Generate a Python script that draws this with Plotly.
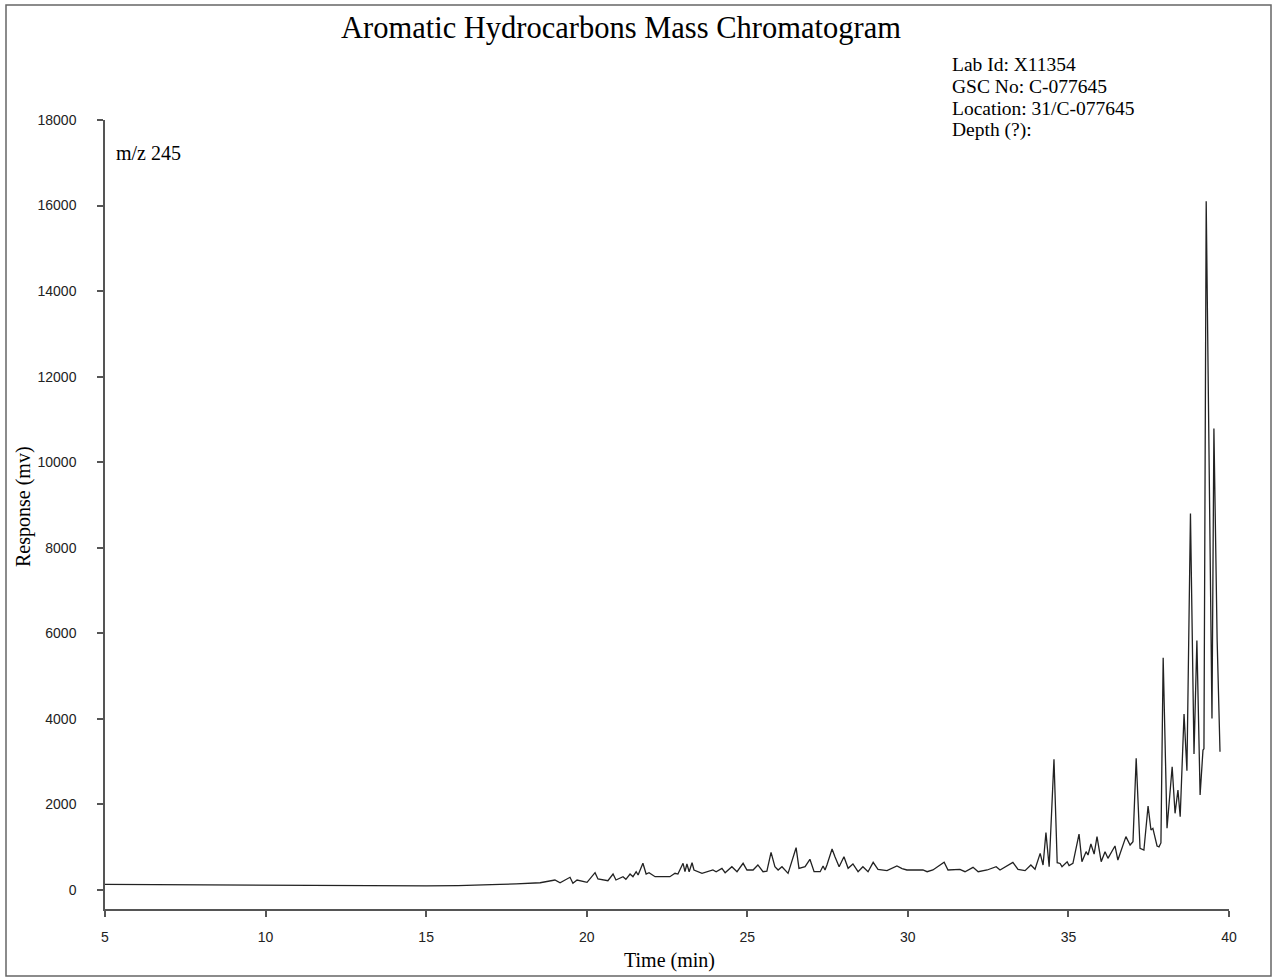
import plotly.graph_objects as go

# Retention time (min) and response (mv)
time_min = [
    5.0, 6.0, 7.0, 8.0, 9.0, 10.0, 11.0, 12.0, 13.0, 14.0, 15.0, 16.0, 16.8, 17.3, 17.8, 18.2,
    18.55, 19.01, 19.17, 19.48, 19.57, 19.70, 20.01, 20.26, 20.35, 20.66, 20.82, 20.91, 21.13,
    21.22, 21.35, 21.44, 21.54, 21.60, 21.75, 21.85, 21.94, 22.13, 22.59, 22.75, 22.84, 23.00,
    23.06, 23.12, 23.19, 23.28, 23.34, 23.59, 23.93, 24.03, 24.21, 24.31, 24.52, 24.68, 24.87,
    24.99, 25.18, 25.33, 25.49, 25.61, 25.74, 25.86, 25.96, 26.08, 26.27, 26.52, 26.61, 26.80,
    26.95, 27.08, 27.27, 27.36, 27.42, 27.48, 27.64, 27.73, 27.86, 28.01, 28.14, 28.29, 28.45,
    28.60, 28.76, 28.92, 29.07, 29.35, 29.66, 29.82, 29.97, 30.47, 30.60, 30.78, 31.13, 31.25,
    31.62, 31.78, 32.03, 32.19, 32.47, 32.75, 32.87, 33.27, 33.43, 33.65, 33.83, 33.96, 34.12,
    34.21, 34.30, 34.40, 34.55, 34.65, 34.74, 34.80, 34.89, 34.96, 35.02, 35.14, 35.33, 35.42,
    35.55, 35.61, 35.70, 35.80, 35.89, 36.02, 36.14, 36.23, 36.45, 36.54, 36.79, 36.92, 37.01,
    37.11, 37.23, 37.35, 37.48, 37.57, 37.63, 37.76, 37.82, 37.88, 37.95, 38.07, 38.23, 38.32,
    38.41, 38.48, 38.60, 38.69, 38.80, 38.91, 39.00, 39.10, 39.19, 39.22, 39.29, 39.47, 39.53,
    39.63, 39.72,
]
response_mv = [
    130, 125, 120, 115, 112, 108, 103, 98, 96, 95, 97, 102, 112, 130, 145, 165,
    170, 234, 170, 297, 156, 234, 180, 405, 257, 217, 374, 234, 311,
    250, 374, 311, 428, 351, 624, 374, 405, 311, 311, 390, 374, 624,
    428, 608, 428, 638, 468, 390, 468, 428, 507, 405, 545, 428, 624,
    468, 468, 585, 428, 440, 881, 545, 468, 545, 390, 989, 507, 545,
    717, 428, 428, 560, 468, 585, 959, 779, 545, 779, 507, 608, 428,
    545, 428, 647, 483, 452, 561, 500, 468, 468, 428, 468, 647, 468,
    483, 428, 530, 428, 468, 545, 468, 647, 483, 452, 585, 484, 857,
    585, 1340, 545, 3056, 638, 620, 545, 600, 660, 570, 624, 1309, 662,
    896, 818, 1075, 840, 1247, 662, 896, 740, 1029, 701, 1247, 1052, 1130,
    3079, 974, 935, 1964, 1403, 1442, 1029, 1010, 1100, 5430, 1442, 2880, 1793,
    2338, 1714, 4115, 2790, 8800, 3180, 5835, 2221, 3273, 3300, 16100, 4010, 10790,
    5860, 3230,
]

x_ticks = [5, 10, 15, 20, 25, 30, 35, 40]
y_ticks = [0, 2000, 4000, 6000, 8000, 10000, 12000, 14000, 16000, 18000]

title_text = "Aromatic Hydrocarbons Mass Chromatogram"
info_lines = ["Lab Id: X11354", "GSC No: C-077645", "Location: 31/C-077645", "Depth (?):"]
ion_label = "m/z 245"
x_title = "Time (min)"
y_title = "Response (mv)"

W, H = 1275, 977
ML, MR, MT, MB = 105, 46, 120, 68
PW, PH = W - ML - MR, H - MT - MB


def px(xp):
    return (xp - ML) / PW


def py(yp):
    return (H - MB - yp) / PH


SERIF = "Liberation Serif, Times New Roman, serif"
SANS = "Liberation Sans, Arial, sans-serif"

fig = go.Figure()
fig.add_trace(go.Scatter(
    x=time_min, y=response_mv, mode="lines",
    line=dict(color="#222222", width=1.3), showlegend=False, hoverinfo="x+y",
))

annotations = [
    dict(text=title_text, x=px(621), y=py(28), xref="paper", yref="paper",
         xanchor="center", yanchor="middle", showarrow=False,
         font=dict(family=SERIF, size=30.5, color="#000")),
    dict(text=ion_label, x=px(114), y=py(153), xref="paper", yref="paper",
         xanchor="left", yanchor="middle", showarrow=False,
         font=dict(family=SERIF, size=20, color="#000")),
    dict(text=x_title, x=px(669), y=py(960), xref="paper", yref="paper",
         xanchor="center", yanchor="middle", showarrow=False,
         font=dict(family=SERIF, size=20, color="#000")),
    dict(text=y_title, x=px(23), y=py(507), xref="paper", yref="paper",
         xanchor="center", yanchor="middle", showarrow=False, textangle=-90,
         font=dict(family=SERIF, size=20, color="#000")),
]
for i, line in enumerate(info_lines):
    annotations.append(dict(
        text=line, x=px(951), y=py(64.6 + i * 21.8), xref="paper", yref="paper",
        xanchor="left", yanchor="middle", showarrow=False, borderpad=0,
        font=dict(family=SERIF, size=19.5, color="#000")))

fig.update_layout(
    width=W, height=H,
    margin=dict(l=ML, r=MR, t=MT, b=MB, pad=0),
    paper_bgcolor="white", plot_bgcolor="white",
    annotations=annotations,
    shapes=[dict(type="rect", xref="paper", yref="paper",
                 x0=px(6), x1=px(1271), y0=py(976), y1=py(5),
                 line=dict(color="#666", width=1.5), fillcolor="rgba(0,0,0,0)")],
    xaxis=dict(range=[5, 40], tickvals=x_ticks, ticktext=[str(v) for v in x_ticks],
               showgrid=False, zeroline=False, showline=True, linecolor="#555", linewidth=1.5,
               ticks="outside", ticklen=6, tickwidth=1.5, tickcolor="#555",
               tickfont=dict(family=SANS, size=14, color="#222"), ticklabelstandoff=8),
    yaxis=dict(range=[-444, 18000], tickvals=y_ticks, ticktext=[str(v) for v in y_ticks],
               showgrid=False, zeroline=False, showline=True, linecolor="#555", linewidth=1.5,
               ticks="outside", ticklen=6, tickwidth=1.5, tickcolor="#555",
               tickfont=dict(family=SANS, size=14, color="#222"), ticklabelstandoff=18),
)

fig.write_html("out.html")
